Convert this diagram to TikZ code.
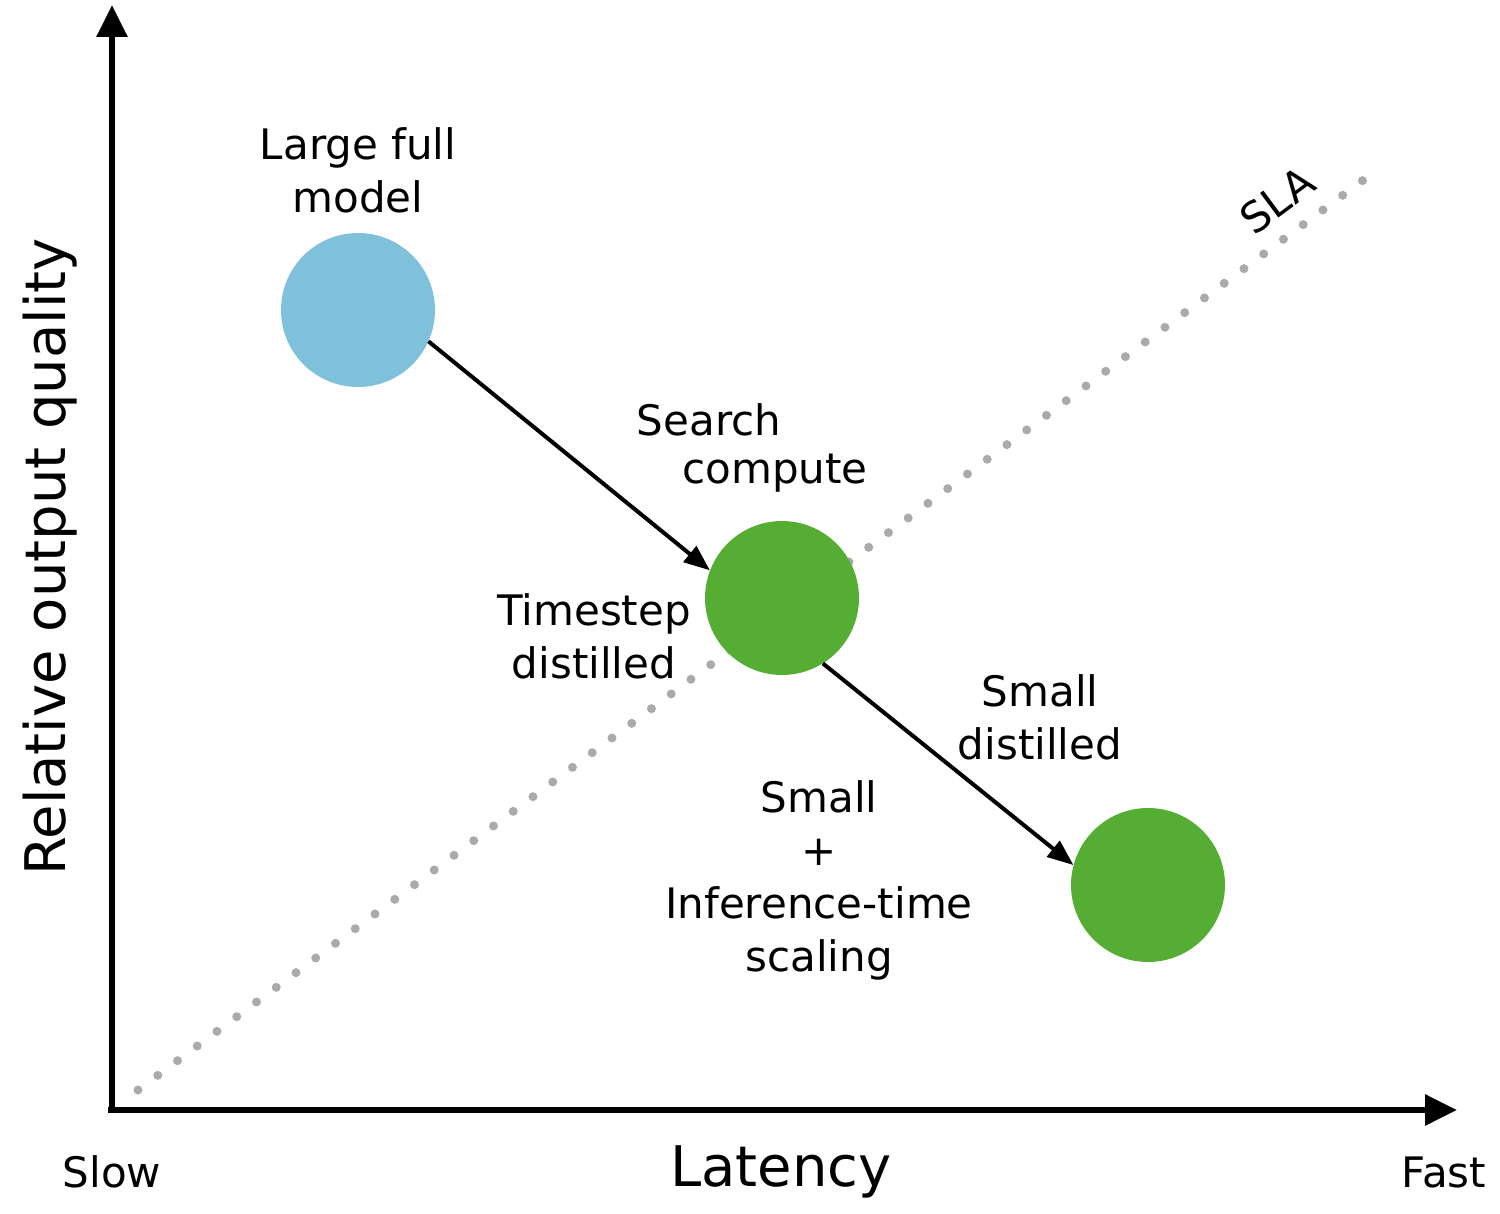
\documentclass[tikz,border=0pt]{standalone}
\usepackage{fontspec}
\setmainfont{DejaVu Sans}
\usetikzlibrary{arrows.meta}
\definecolor{cblue}{HTML}{7FC1DA}
\definecolor{cgreen}{HTML}{55AE33}
\definecolor{cdot}{HTML}{AAAAAA}
\tikzset{
  lbl/.style={font=\fontsize{42}{53}\selectfont, align=center, inner sep=0pt},
  big/.style={font=\fontsize{56}{60}\selectfont, inner sep=0pt},
  axis/.style={line width=6pt, -{Triangle[length=32pt,width=30pt]}},
  conn/.style={line width=4pt, -{Triangle[length=26pt,width=20pt]}},
  dot/.style={line width=9pt, cdot, line cap=round, dash pattern=on 0pt off 24.6pt},
  ball/.style={circle, minimum size=154pt, inner sep=0pt}
}
\begin{document}
\begin{tikzpicture}[x=1pt,y=-1pt]
\useasboundingbox (0,0) rectangle (1500,1214);
\coordinate (d1) at (138,1090);
\coordinate (d2) at (1370,175);
\draw[dot] (d1) -- (d2);
\coordinate (o) at (112,1110);
\coordinate (ytop) at (112,5);
\coordinate (xr) at (1457,1110);
\draw[axis] (o) -- (ytop);
\draw[axis] ([xshift=-4pt]o) -- (xr);
\node[ball, fill=cblue] (a) at (358,310) {};
\node[ball, fill=cgreen] (b) at (782,598) {};
\node[ball, fill=cgreen] (c) at (1148,885) {};
\draw[conn] (a.-24) -- (b.159);
\draw[conn] (b.-58) -- (c.165);
\node[lbl] (t1) at (358,170) {Large full\\model};
\node[lbl] (t2) at (709,420) {Search};
\node[lbl] (t3) at (775,473) {compute};
\node[lbl] (t4) at (594,636) {Timestep\\distilled};
\node[lbl] (t5) at (1040,717) {Small\\distilled};
\node[lbl] (t6) at (819,880) {Small\\+\\Inference-time\\scaling};
\node[lbl, rotate=36.6] (sla) at (1277,200) {SLA};
\node[lbl] (slow) at (112,1172) {Slow};
\node[lbl] (fast) at (1444,1172) {Fast};
\node[big] (lat) at (781,1172) {Latency};
\node[big, rotate=90] (yl) at (50,557) {Relative output quality};
\end{tikzpicture}
\end{document}
